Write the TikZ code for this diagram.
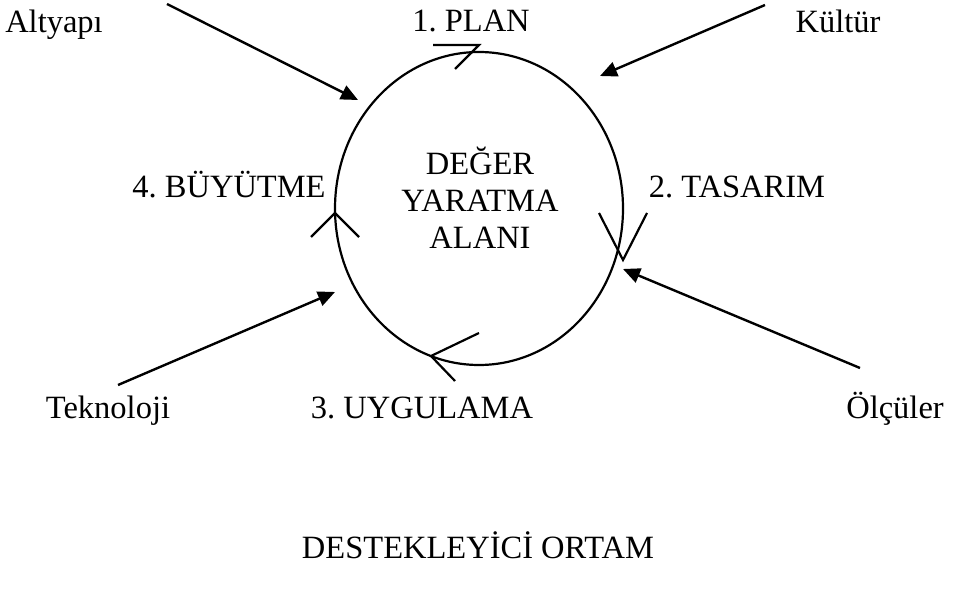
\documentclass[tikz,border=0pt]{standalone}
\usepackage{fontspec}
\setmainfont{Liberation Serif}
\usetikzlibrary{shapes.geometric,arrows.meta}
\frenchspacing
\begin{document}
\begin{tikzpicture}[x=1pt,y=-1pt,
  lbl/.style={font=\fontsize{32.5}{37}\selectfont, inner sep=0pt, align=center},
  word/.style={lbl, anchor=base},
  ring/.style={draw, line width=2.2pt, ellipse, inner sep=0pt},
  chev/.style={draw, line width=2.2pt, line join=miter},
  force/.style={draw, line width=2.4pt, -{Triangle[length=17pt,width=15pt]}}]
\path[use as bounding box] (0,0) rectangle (963,593);

% value-creation cycle
\node[ring, minimum width=288pt, minimum height=313pt] (cycle) at (479,208.5) {};
\node[lbl] (area) at (480,198) {DEĞER\\YARATMA\\ALANI};

% phase labels
\node[word] (plan) at (471,32) {1. PLAN};
\node[word] (design) at (737,198) {2. TASARIM};
\node[word] (apply) at (422,418) {3. UYGULAMA};
\node[word] (grow) at (229,198) {4. BÜYÜTME};

% influencing factors
\node[word] (infra) at (54,33) {Altyapı};
\node[word] (culture) at (838,33) {Kültür};
\node[word] (tech) at (108,418) {Teknoloji};
\node[word] (measure) at (895,418) {Ölçüler};
\node[word] (env) at (478,558) {DESTEKLEYİCİ ORTAM};

% direction marks on the cycle
\coordinate (planTip) at (479,45);
\coordinate (planA) at (433,45);
\coordinate (planB) at (455,69);
\coordinate (designTip) at (623,260);
\coordinate (designA) at (599,213);
\coordinate (designB) at (647,213);
\coordinate (applyTip) at (431,356);
\coordinate (applyA) at (479,333);
\coordinate (applyB) at (455,381);
\coordinate (growTip) at (335,213);
\coordinate (growA) at (311,237);
\coordinate (growB) at (359,237);
\draw[chev] (planA) -- (planTip) -- (planB);
\draw[chev] (designA) -- (designTip) -- (designB);
\draw[chev] (applyA) -- (applyTip) -- (applyB);
\draw[chev] (growA) -- (growTip) -- (growB);

% factor arrows toward the cycle
\coordinate (infraStart) at (167,4);
\coordinate (infraEnd) at (358,100);
\coordinate (cultureStart) at (765,5);
\coordinate (cultureEnd) at (600,76);
\coordinate (measureStart) at (860,368);
\coordinate (measureEnd) at (623,269);
\coordinate (techStart) at (118,385);
\coordinate (techEnd) at (335,292);
\draw[force] (infraStart) -- (infraEnd);
\draw[force] (cultureStart) -- (cultureEnd);
\draw[force] (measureStart) -- (measureEnd);
\draw[force] (techStart) -- (techEnd);
\end{tikzpicture}
\end{document}
